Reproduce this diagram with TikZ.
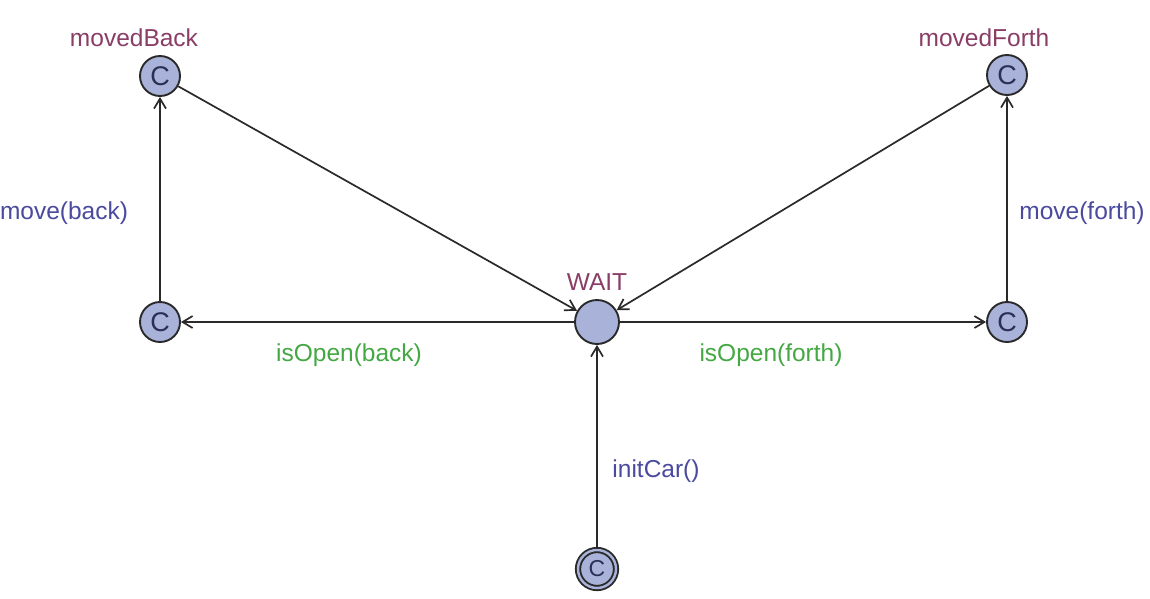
\documentclass[tikz,border=0pt]{standalone}
\usepackage{fontspec}
\setmainfont{Liberation Sans}
\usetikzlibrary{arrows.meta}
\definecolor{locfill}{HTML}{A9B3D9}
\definecolor{locname}{HTML}{8A3D66}
\definecolor{asgn}{HTML}{4A4A9E}
\definecolor{grd}{HTML}{44A844}
\definecolor{edgec}{HTML}{2A2A2A}
\definecolor{cletter}{HTML}{2A2F55}
\begin{document}
\begin{tikzpicture}[x=1pt,y=-1pt,
  loc/.style={circle,draw=edgec,line width=1.9pt,fill=locfill,minimum size=40pt,inner sep=0pt,
    font=\fontsize{27}{28}\selectfont,text=cletter},
  initloc/.style={loc,double=locfill,double distance=2.4pt,font=\fontsize{23}{24}\selectfont},
  lname/.style={text=locname,font=\fontsize{24.5}{27}\selectfont,inner sep=0pt},
  alabel/.style={text=asgn,font=\fontsize{24.5}{27}\selectfont,inner sep=0pt},
  glabel/.style={text=grd,font=\fontsize{24.5}{27}\selectfont,inner sep=0pt},
  edge/.style={draw=edgec,line width=1.7pt,-{Straight Barb[length=10pt,width=12pt,line width=1.7pt]}}]
\useasboundingbox[fill=white] (0,0) rectangle (1150,598);
\node[loc] (mb) at (160,76) {C};
\node[loc] (mf) at (1007,75) {C};
\node[loc] (lc) at (160,322) {C};
\node[loc,minimum size=44pt] (w) at (597,322) {};
\node[loc] (rc) at (1007,322) {C};
\node[initloc,minimum size=38pt] (i) at (597,569) {C};
\node[lname] (mbn) at (134,38) {movedBack};
\node[lname] (mfn) at (984,38) {movedForth};
\node[lname] (wn) at (597,282) {WAIT};
\node[alabel] (l1) at (64,213) {move(back)};
\node[alabel] (l2) at (1082,213) {move(forth)};
\node[glabel] (l3) at (349,355) {isOpen(back)};
\node[glabel] (l4) at (771,355) {isOpen(forth)};
\node[alabel] (l5) at (656,471) {initCar()};
\draw[edge] (mb) -- (w);
\draw[edge] (mf) -- (w);
\draw[edge] (lc) -- (mb);
\draw[edge] (rc) -- (mf);
\draw[edge] (w) -- (lc);
\draw[edge] (w) -- (rc);
\draw[edge] (i) -- (w);
\end{tikzpicture}
\end{document}
